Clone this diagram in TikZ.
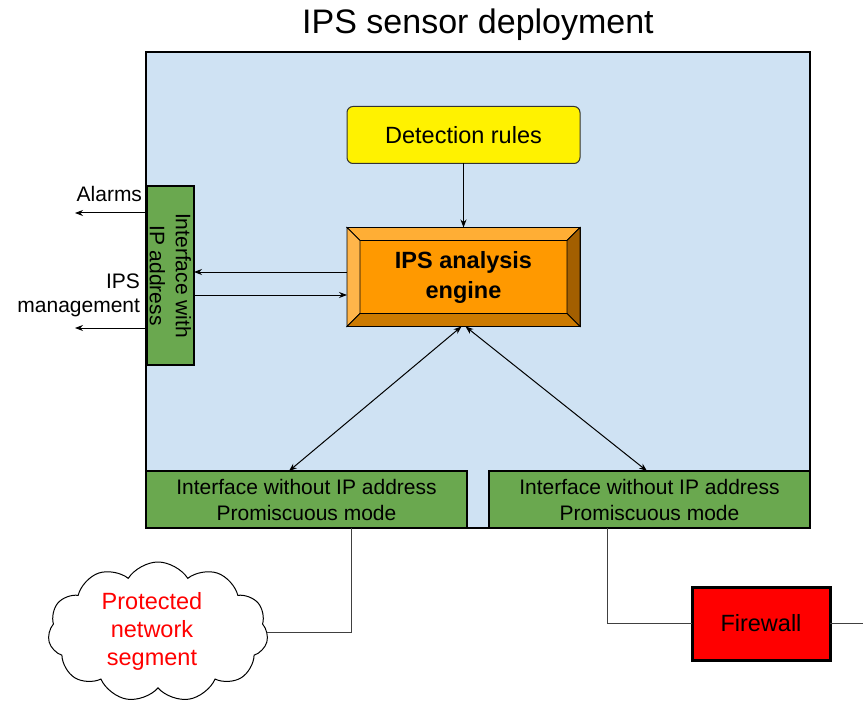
\documentclass[tikz,border=0pt]{standalone}
\usepackage{fontspec}
\setmainfont{Liberation Sans}
\usetikzlibrary{arrows.meta,shapes.symbols,calc}
\definecolor{bluebg}{HTML}{CFE2F3}
\definecolor{greenbox}{HTML}{6AA84F}
\definecolor{orangec}{HTML}{FF9900}
\definecolor{bevtop}{HTML}{FFAE35}
\definecolor{bevleft}{HTML}{FFB54A}
\definecolor{bevright}{HTML}{A35F00}
\definecolor{bevbot}{HTML}{CC7A00}
\begin{document}
\begin{tikzpicture}[x=1pt,y=-1pt,
  every node/.style={inner sep=0pt,outer sep=0pt},
  greenif/.style={draw=black,line width=1.5pt,fill=greenbox,align=center,
     font=\fontsize{21}{26}\selectfont},
  arr/.style={line width=1pt,-{Stealth[length=8pt,width=6pt]}},
  arrboth/.style={line width=1pt,{Stealth[length=8pt,width=6pt]}-{Stealth[length=8pt,width=6pt]}},
  conn/.style={line width=1pt,draw=black!75},
  lbl/.style={font=\fontsize{21}{24}\selectfont}]
\useasboundingbox (0,0) rectangle (863,706);

\node[anchor=base,font=\fontsize{34}{40}\selectfont] (title) at (478,34) {IPS sensor deployment};

\node[draw=black,line width=2pt,fill=bluebg,minimum width=664,minimum height=476] (sensor) at (478,290) {};

\node[draw=black!80,line width=1pt,fill=yellow,rounded corners=6pt,minimum width=233,minimum height=57,
  font=\fontsize{23.5}{28}\selectfont] (rules) at (463.5,135) {Detection rules};

\node[draw=black,line width=1pt,fill=orangec,minimum width=233,minimum height=99] (engine) at (463.5,277) {};
\fill[bevtop,draw=black,line width=0.8pt] (engine.north west) -- (engine.north east) -- ($(engine.north east)+(-13,13)$) -- ($(engine.north west)+(13,13)$) -- cycle;
\fill[bevleft,draw=black,line width=0.8pt] (engine.north west) -- ($(engine.north west)+(13,13)$) -- ($(engine.south west)+(13,-13)$) -- (engine.south west) -- cycle;
\fill[bevright,draw=black,line width=0.8pt] (engine.north east) -- (engine.south east) -- ($(engine.south east)+(-13,-13)$) -- ($(engine.north east)+(-13,13)$) -- cycle;
\fill[bevbot,draw=black,line width=0.8pt] (engine.south west) -- (engine.south east) -- ($(engine.south east)+(-13,-13)$) -- ($(engine.south west)+(13,-13)$) -- cycle;
\node[align=center,font=\bfseries\fontsize{23.5}{30}\selectfont] (enginetext) at (engine.center) {IPS analysis\\engine};

\node[greenif,minimum width=179,minimum height=47,rotate=-90] (ipif) at (170.5,275.5) {Interface with\\IP address};

\node[greenif,minimum width=321,minimum height=57] (ifl) at (306.5,499.5) {Interface without IP address\\Promiscuous mode};
\node[greenif,minimum width=321,minimum height=57] (ifr) at (649.5,499.5) {Interface without IP address\\Promiscuous mode};

\node[draw=black,line width=3pt,fill=red,minimum width=138,minimum height=73,
  font=\fontsize{23.5}{28}\selectfont] (fw) at (761,623.5) {Firewall};

\node[cloud,draw=black,line width=1pt,fill=white,cloud puffs=11,cloud puff arc=115,aspect=1.6,
  minimum width=220,minimum height=140] (cloud) at (158,632) {};
\node[align=center,text=red,font=\fontsize{23.5}{28}\selectfont] (cloudtext) at (152,631) {Protected\\network\\segment};

% connectors
\draw[arr] (rules) -- (engine);
\coordinate (a1) at ($(engine.west)+(0,-5)$);
\draw[arr] (a1) -- (a1 -| ipif.north);
\coordinate (b1) at ($(engine.west)+(0,18)$);
\draw[arr] (b1 -| ipif.north) -- (b1);

\coordinate (alarmsend) at (75,213);
\draw[arr] (alarmsend -| ipif.south) -- (alarmsend);
\coordinate (mgmtend) at (75,328);
\draw[arr] (mgmtend -| ipif.south) -- (mgmtend);
\node[lbl,anchor=base east] (alarms) at (142,202) {Alarms};
\node[lbl,align=right,anchor=east] (mgmt) at (140,295) {IPS\\management};

\draw[arrboth] ($(engine.south)+(-2,0)$) -- ($(ifl.north)+(-17.5,0)$);
\draw[arrboth] ($(engine.south)+(2,0)$) -- ($(ifr.north)+(-2.5,0)$);

\draw[conn] ($(ifl.south)+(44.5,0)$) |- (cloud.east);
\draw[conn] ($(ifr.south)+(-42.5,0)$) |- (fw.west);
\coordinate (offR) at (863,623.5);
\draw[conn] (fw.east) -- (offR);
\end{tikzpicture}
\end{document}
